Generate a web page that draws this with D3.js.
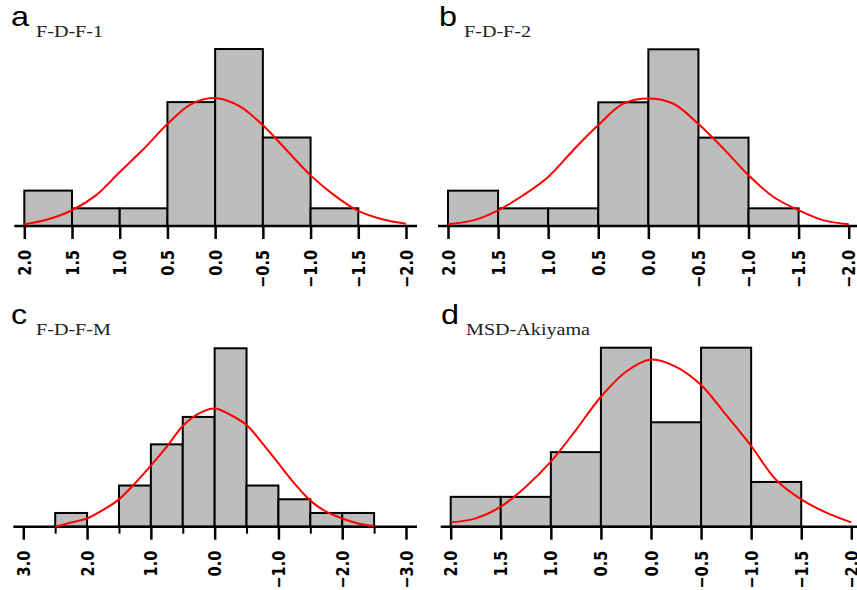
<!DOCTYPE html>
<html>
<head>
<meta charset="utf-8">
<script src="https://cdn.jsdelivr.net/npm/d3@7"></script>
<style>
  html, body { margin: 0; padding: 0; background: #fff; }
  svg { display: block; }
</style>
</head>
<body>
<svg id="chart" width="857" height="590"></svg>
<script>
// histogram bins (edges listed left to right, axis runs from + to -)
const edgesA = [2.0, 1.5, 1.0, 0.5, 0.0, -0.5, -1.0, -1.5];
const countsA = [2, 1, 1, 7, 10, 5, 1];
const edgesB = [2.0, 1.5, 1.0, 0.5, 0.0, -0.5, -1.0, -1.5];
const countsB = [2, 1, 1, 7, 10, 5, 1];
const edgesC = [2.5, 2.0, 1.5, 1.0, 0.5, 0.0, -0.5, -1.0, -1.5, -2.0, -2.5];
const countsC = [1, 0, 3, 6, 8, 13, 3, 2, 1, 1];
const edgesD = [2.0, 1.5, 1.0, 0.5, 0.0, -0.5, -1.0, -1.5];
const countsD = [2, 2, 5, 12, 7, 12, 3];

// fitted curves (same units as counts)
const curveX2 = [2.0, 1.75, 1.5, 1.25, 1.0, 0.75, 0.5, 0.25, 0.0, -0.25, -0.5, -0.75, -1.0, -1.25, -1.5, -1.75, -2.0];
const curveA = [0.1, 0.38, 0.89, 1.73, 3.05, 4.35, 5.76, 6.89, 7.23, 6.78, 5.69, 4.28, 2.86, 1.73, 0.85, 0.38, 0.13];
const curveB = [0.1, 0.32, 0.89, 1.74, 2.78, 4.29, 5.71, 6.92, 7.22, 6.92, 5.77, 4.38, 2.87, 1.64, 0.89, 0.32, 0.1];
const curveXC = [2.5, 2.25, 2.0, 1.75, 1.5, 1.25, 1.0, 0.75, 0.5, 0.25, 0.0, -0.25, -0.5, -0.75, -1.0, -1.25, -1.5, -1.75, -2.0, -2.25, -2.5];
const curveC = [0.0, 0.31, 0.6, 1.22, 1.99, 3.16, 4.45, 5.83, 7.34, 8.24, 8.62, 8.14, 7.41, 6.07, 4.61, 3.16, 1.9, 1.09, 0.6, 0.24, 0.05];
const curveD = [0.29, 0.56, 1.34, 2.68, 4.36, 6.48, 8.71, 10.39, 11.21, 10.72, 9.5, 7.49, 5.41, 3.13, 1.83, 0.94, 0.29];

// tick labels
const ticks2 = ["2.0", "1.5", "1.0", "0.5", "0.0", "-0.5", "-1.0", "-1.5", "-2.0"];
const ticks3 = ["3.0", "2.0", "1.0", "0.0", "-1.0", "-2.0", "-3.0"];
const minor3 = [2.5, 1.5, 0.5, -0.5, -1.5, -2.5];

const panels = [
  { letter: "a", name: "F-D-F-1", edges: edgesA, counts: countsA, cx: curveX2, cy: curveA,
    ticks: ticks2, minor: [], dom: [2, -2], x0: 24.3, x1: 406, base: 226, top: 49, ox: 0, oy: 0 },
  { letter: "b", name: "F-D-F-2", edges: edgesB, counts: countsB, cx: curveX2, cy: curveB,
    ticks: ticks2, minor: [], dom: [2, -2], x0: 448, x1: 848.7, base: 226, top: 49.3, ox: 428, oy: 0 },
  { letter: "c", name: "F-D-F-M", edges: edgesC, counts: countsC, cx: curveXC, cy: curveC,
    ticks: ticks3, minor: minor3, dom: [3, -3], x0: 23.3, x1: 406, base: 526.7, top: 348.3, ox: 0, oy: 298 },
  { letter: "d", name: "MSD-Akiyama", edges: edgesD, counts: countsD, cx: curveX2, cy: curveD,
    ticks: ticks2, minor: [], dom: [2, -2], x0: 450.7, x1: 851.3, base: 526.7, top: 347.7, ox: 430, oy: 298 },
];

const svg = d3.select("#chart");

panels.forEach((p) => {
  const g = svg.append("g");

  const x = d3.scaleLinear().domain(p.dom).range([p.x0, p.x1]);
  const y = d3.scaleLinear().domain([0, d3.max(p.counts)]).range([p.base, p.top]);

  const bins = p.counts.map((c, i) => ({ a: p.edges[i], b: p.edges[i + 1], n: c }));

  g.selectAll(".bar")
    .data(bins.filter((d) => d.n > 0))
    .enter()
    .append("rect")
    .attr("x", (d) => x(d.a))
    .attr("y", (d) => y(d.n))
    .attr("width", (d) => x(d.b) - x(d.a))
    .attr("height", (d) => y(0) - y(d.n))
    .attr("fill", "#bdbdbd")
    .attr("stroke", "#000")
    .attr("stroke-width", 2);

  // axis
  const tickVals = p.ticks.map((t) => +t);
  const axis = d3.axisBottom(x)
    .tickValues(tickVals)
    .tickSize(13)
    .tickFormat("");
  const ax = g.append("g").attr("transform", `translate(0,${p.base})`).call(axis);
  ax.select(".domain").remove();
  ax.selectAll(".tick line").attr("stroke", "#000").attr("stroke-width", 2.5);

  if (p.minor.length) {
    const minorAxis = d3.axisBottom(x).tickValues(p.minor).tickSize(7).tickFormat("");
    const mx = g.append("g").attr("transform", `translate(0,${p.base})`).call(minorAxis);
    mx.select(".domain").remove();
    mx.selectAll(".tick line").attr("stroke", "#000").attr("stroke-width", 2);
  }

  g.append("line")
    .attr("x1", p.x0 - 10)
    .attr("x2", p.x1 + 11)
    .attr("y1", p.base)
    .attr("y2", p.base)
    .attr("stroke", "#000")
    .attr("stroke-width", 2.5);

  g.selectAll(".tlab")
    .data(p.ticks)
    .enter()
    .append("text")
    .attr("transform", (d) => `translate(${x(+d)},${p.base + 24}) rotate(-90) scale(1,1.25)`)
    .attr("text-anchor", "end")
    .attr("dy", "0.36em")
    .attr("font-family", "DejaVu Sans, sans-serif")
    .attr("font-weight", "bold")
    .attr("font-size", 14.5)
    .attr("fill", "#000")
    .text((d) => d.replace("-", "\u2212"));

  // fitted curve
  const pts = p.cx.map((v, i) => [v, p.cy[i]]);
  g.append("path")
    .datum(pts)
    .attr("fill", "none")
    .attr("stroke", "#ff0000")
    .attr("stroke-width", 2)
    .attr("d", d3.line().x((d) => x(d[0])).y((d) => y(d[1])).curve(d3.curveCatmullRom));

  // titles
  g.append("text")
    .attr("transform", `translate(${p.ox + 11},${p.oy + 26}) scale(1.2,1)`)
    .attr("font-family", "Liberation Sans, Arial, sans-serif")
    .attr("font-size", 27)
    .text(p.letter);

  g.append("text")
    .attr("transform", `translate(${p.ox + 36},${p.oy + 37}) scale(1.22,1)`)
    .attr("font-family", "Liberation Serif, Times New Roman, serif")
    .attr("font-size", 16.5)
    .attr("fill", "#222")
    .text(p.name);
});
</script>
</body>
</html>
